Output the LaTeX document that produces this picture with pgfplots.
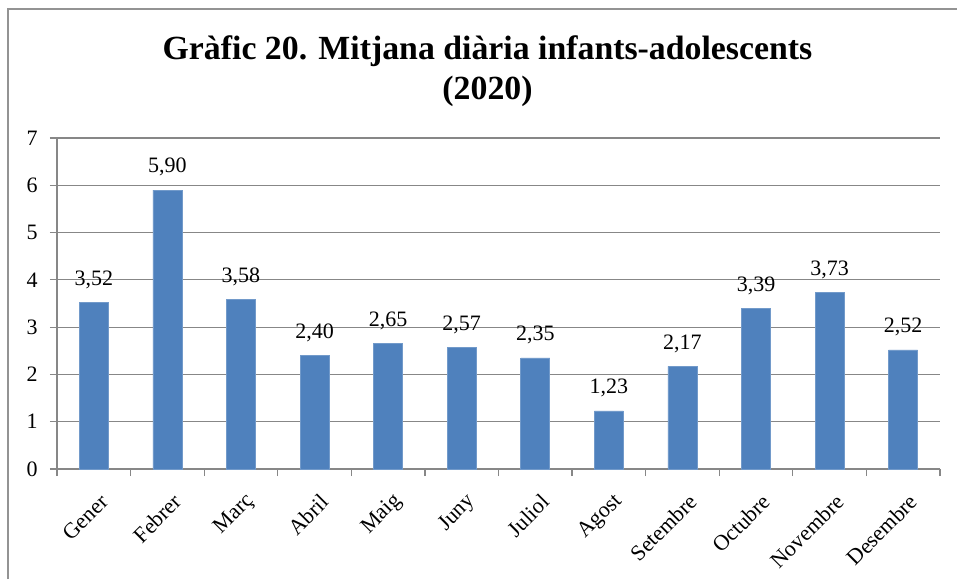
\documentclass[border=0pt]{standalone}
\usepackage{fontspec}
\setmainfont{Liberation Serif}
\usepackage{pgfplots}
\pgfplotsset{compat=1.18}
\definecolor{barblue}{HTML}{4F81BD}
\definecolor{gridgray}{HTML}{878787}

\begin{document}
\begin{tikzpicture}
\useasboundingbox (0,0) rectangle (478.5pt,289.5pt);
\draw[gridgray!90, line width=0.6pt] (4pt,0) -- (4pt,285pt) -- (478.5pt,285pt);
\node[anchor=base, font=\bfseries\fontsize{16.9}{19}\selectfont] at (243.75pt,259.5pt) {Gràfic 20. Mitjana diària infants-adolescents};
\node[anchor=base, font=\bfseries\fontsize{16.9}{19}\selectfont] at (243.75pt,239.5pt) {(2020)};
\begin{axis}[
  at={(28.5pt,55pt)}, anchor=south west,
  scale only axis, width=441.5pt, height=165.5pt,
  xmin=0.5, xmax=12.5, ymin=0, ymax=7,
  ytick={0,...,7},
  xtick={0.5,1.5,...,12.5},
  xticklabels={},
  extra x ticks={1,...,12},
  extra x tick labels={Gener,Febrer,Març,Abril,Maig,Juny,Juliol,Agost,Setembre,Octubre,Novembre,Desembre},
  extra x tick style={grid=none, major tick length=0pt,
    xticklabel style={rotate=45, anchor=east, inner sep=0pt, xshift=-6.5pt, yshift=-14pt}},
  tick align=outside,
  major tick length=3.5pt,
  tick style={gridgray, line width=0.6pt},
  ymajorgrids,
  grid style={gridgray, line width=0.6pt},
  axis x line*=bottom, axis y line*=left,
  axis line style={gridgray, line width=0.6pt, -},
  tick label style={font=\fontsize{11}{13}\selectfont, text=black},
  yticklabel style={anchor=east, inner sep=0pt, xshift=-6pt},
  /pgf/number format/assume math mode=true,
  ybar, bar width=14.5pt,
  nodes near coords,
  nodes near coords style={font=\fontsize{11}{13}\selectfont, anchor=south, inner sep=0pt, text depth=0pt, yshift=8.5pt,
    /pgf/number format/.cd, fixed, fixed zerofill, precision=2, use comma, assume math mode=true},
]
\addplot[fill=barblue, draw=barblue!80!white, line width=0.3pt] coordinates {
  (1,3.52) (2,5.90) (3,3.58) (4,2.40) (5,2.65) (6,2.57)
  (7,2.35) (8,1.23) (9,2.17) (10,3.39) (11,3.73) (12,2.52)};
\end{axis}
\end{tikzpicture}
\end{document}
